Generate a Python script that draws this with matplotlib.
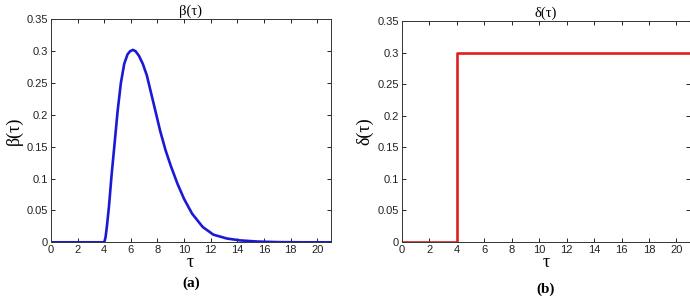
import numpy as np
import matplotlib
matplotlib.use("Agg")
import matplotlib.pyplot as plt

# values
tau_beta = [0, 4.0, 4.1, 4.2, 4.35, 4.55, 4.8, 5.0, 5.25, 5.5, 5.75, 5.95,
            6.15, 6.35, 6.6, 6.9, 7.2, 7.5, 7.8, 8.2, 8.6, 9.0, 9.5, 10.0,
            10.6, 11.4, 12.2, 13.2, 14.2, 15.5, 17.0, 19.0, 21.0]
beta = [0, 0, 0.008, 0.025, 0.055, 0.105, 0.16, 0.205, 0.25, 0.28, 0.295,
        0.300, 0.302, 0.300, 0.293, 0.280, 0.262, 0.236, 0.210, 0.175, 0.145,
        0.120, 0.092, 0.068, 0.045, 0.024, 0.012, 0.006, 0.003, 0.0012,
        0.0003, 0, 0]

tau_delta = [0, 4, 4, 21]
delta = [0, 0, 0.3, 0.3]

xticks = [0, 2, 4, 6, 8, 10, 12, 14, 16, 18, 20]
yticks = [0, 0.05, 0.1, 0.15, 0.2, 0.25, 0.3, 0.35]
ytick_labels = ["0", "0.05", "0.1", "0.15", "0.2", "0.25", "0.3", "0.35"]

W, H = 690, 301
fig = plt.figure(figsize=(W / 100, H / 100), dpi=100)

serif = ["Liberation Serif", "DejaVu Serif"]


def setup(ax, title, ylab):
    ax.set_xlim(0, 21)
    ax.set_ylim(0, 0.35)
    ax.set_xticks(xticks)
    ax.set_yticks(yticks)
    ax.set_yticklabels(ytick_labels)
    ax.tick_params(direction="in", top=True, right=True, length=3, width=0.6,
                   labelsize=8, labelcolor="#222222", pad=2)
    for lab in ax.get_xticklabels() + ax.get_yticklabels():
        lab.set_family(["Liberation Sans", "DejaVu Sans"])
    for s in ax.spines.values():
        s.set_linewidth(0.7)
        s.set_color("#333333")
    ax.set_title(title, family=serif, fontsize=10.5, pad=3)
    ax.set_ylabel(ylab, family=serif, fontsize=13, labelpad=3)


# left panel
ax1 = fig.add_axes([51 / W, 1 - 242.3 / H, (330.5 - 51) / W, (242.3 - 19.3) / H])
ax1.plot(tau_beta, beta, color="#1a1ad6", lw=1.9, solid_joinstyle="round")
setup(ax1, "β(τ)", "β(τ)")

# right panel (right edge runs off the picture)
ax2 = fig.add_axes([401.7 / W, 1 - 242 / H, (690.2 - 401.7) / W, (242 - 21.3) / H])
ax2.plot(tau_delta, delta, color="#e02020", lw=1.9)
setup(ax2, "δ(τ)", "δ(τ)")

# x labels and panel letters
for cx, ly, letter in [((51 + 330.5) / 2, 283, "(a)"), ((401.7 + 690) / 2, 289, "(b)")]:
    fig.text(cx / W, 1 - 267 / H, "τ", family=serif, fontsize=13,
             ha="center", va="baseline")
    fig.text(cx / W, 1 - ly / H, letter, family=serif,
             fontsize=11, fontweight="bold", ha="center", va="center")

fig.savefig("out.png", dpi=100)
